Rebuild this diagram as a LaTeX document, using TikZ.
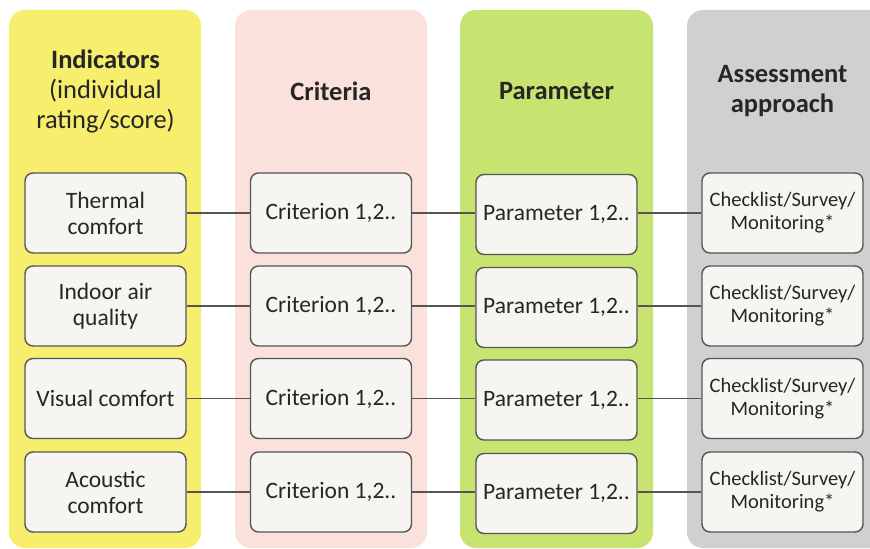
\documentclass[tikz,border=0pt]{standalone}
\usepackage{fontspec}
\setmainfont{Carlito}
\definecolor{colY}{HTML}{F6EE6C}
\definecolor{colP}{HTML}{FAE1DB}
\definecolor{colG}{HTML}{C6E46F}
\definecolor{colR}{HTML}{D0D0D0}
\definecolor{boxfill}{HTML}{F7F5F1}
\definecolor{boxline}{HTML}{555555}
\definecolor{txt}{HTML}{262626}
\tikzset{
  colbg/.style={rounded corners=16bp},
  hdr/.style={align=center, text=txt, inner sep=0pt, font=\fontsize{26.5bp}{30bp}\selectfont},
  cellbox/.style={draw=boxline, fill=boxfill, rounded corners=8bp, line width=1.4bp,
    minimum width=161bp, minimum height=80bp, align=center, inner sep=0pt, text=txt,
    font=\fontsize{23.5bp}{26bp}\selectfont},
  smallbox/.style={cellbox, font=\fontsize{20.5bp}{23bp}\selectfont},
  conn/.style={draw=boxline, line width=1.4bp}
}
\begin{document}
\begin{tikzpicture}[x=1bp,y=-1bp]
\useasboundingbox (0,0) rectangle (870,549);
\clip (0,0) rectangle (870,549);
\fill[colY, colbg] (9,10) rectangle (201,548);
\fill[colP, colbg] (235,10) rectangle (427,548);
\fill[colG, colbg] (460,10) rectangle (653,548);
\fill[colR, colbg] (687,10) rectangle (890,548);

\node[hdr] (h1) at (105.5,91) {\textbf{Indicators}\\(individual\\rating/score)};
\node[hdr] (h2) at (331,91) {\textbf{Criteria}};
\node[hdr] (h3) at (556.5,91) {\textbf{Parameter}};
\node[hdr] (h4) at (782.5,91) {\textbf{Assessment}\\\textbf{approach}};

\foreach \r/\y in {1/213,2/306,3/398.5,4/492}{
  \node[cellbox] (c\r) at (331,\y) {Criterion 1,2..};
  \node[cellbox] (p\r) at (556.5,\y+1.5) {Parameter 1,2..};
  \node[smallbox] (a\r) at (782.5,\y) {Checklist/Survey/\\Monitoring*};
}
\node[cellbox] (i1) at (105.5,213) {Thermal\\comfort};
\node[cellbox] (i2) at (105.5,306) {Indoor air\\quality};
\node[cellbox] (i3) at (105.5,398.5) {Visual comfort};
\node[cellbox] (i4) at (105.5,492) {Acoustic\\comfort};

\foreach \r in {1,2,3,4}{
  \draw[conn] (i\r.east) -- (c\r.west);
  \draw[conn] (c\r.east) -- (c\r.east -| p\r.west);
  \draw[conn] (p\r.east |- a\r.west) -- (a\r.west);
}
\end{tikzpicture}
\end{document}
